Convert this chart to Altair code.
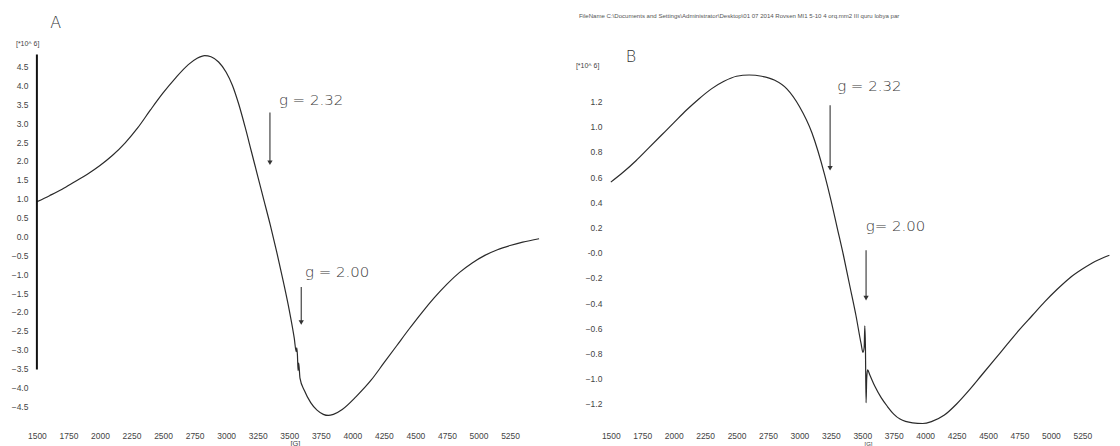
import altair as alt
import pandas as pd

# ---------------- data ----------------
A_G = [1500, 1600, 1700, 1800, 1900, 2000, 2100, 2200, 2300, 2400, 2500, 2600, 2700, 2770, 2830,
       2880, 2940, 3000, 3050, 3100, 3150, 3200, 3250, 3300, 3350, 3400, 3450, 3500, 3540, 3555,
       3560, 3565, 3570, 3575, 3585, 3620, 3670, 3720, 3770, 3810, 3850, 3920, 4030, 4150, 4250,
       4350, 4450, 4550, 4650, 4750, 4850, 4950, 5050, 5150, 5250, 5350, 5480]
A_I = [0.92, 1.08, 1.25, 1.45, 1.65, 1.88, 2.15, 2.48, 2.88, 3.35, 3.80, 4.20, 4.55, 4.72, 4.79,
       4.76, 4.62, 4.35, 4.00, 3.50, 2.90, 2.25, 1.60, 0.95, 0.30, -0.40, -1.15, -1.95, -2.70, -3.05,
       -2.95, -3.15, -3.55, -3.35, -3.75, -4.08, -4.40, -4.60, -4.71, -4.74, -4.71, -4.58, -4.24, -3.80, -3.35,
       -2.90, -2.45, -2.02, -1.62, -1.26, -0.95, -0.70, -0.50, -0.35, -0.24, -0.15, -0.06]

B_G = [1500, 1600, 1700, 1800, 1900, 2000, 2100, 2200, 2300, 2400, 2500, 2600, 2700, 2800, 2900,
       3000, 3100, 3200, 3250, 3300, 3350, 3400, 3450, 3490, 3505, 3515, 3520, 3525, 3530, 3535,
       3542, 3560, 3600, 3650, 3700, 3750, 3800, 3900, 3980, 4050, 4150, 4250, 4350, 4450, 4550,
       4650, 4750, 4850, 4950, 5050, 5150, 5250, 5350, 5465]
B_I = [0.56, 0.64, 0.73, 0.83, 0.93, 1.03, 1.13, 1.22, 1.30, 1.36, 1.40, 1.41, 1.40, 1.37, 1.30,
       1.16, 0.95, 0.62, 0.42, 0.20, -0.02, -0.26, -0.50, -0.72, -0.79, -0.75, -0.58, -0.75, -1.19, -1.00,
       -0.93, -0.97, -1.06, -1.15, -1.22, -1.28, -1.32, -1.35, -1.355, -1.34, -1.29, -1.20, -1.09, -0.97, -0.85,
       -0.73, -0.61, -0.50, -0.39, -0.29, -0.20, -0.13, -0.07, -0.02]

X_TICKS = [1500, 1750, 2000, 2250, 2500, 2750, 3000, 3250, 3500, 3750, 4000, 4250, 4500, 4750, 5000, 5250]
A_Y_TICKS = [-4.5, -4.0, -3.5, -3.0, -2.5, -2.0, -1.5, -1.0, -0.5, 0.0, 0.5, 1.0, 1.5, 2.0, 2.5, 3.0, 3.5, 4.0, 4.5]
B_Y_TICKS = [-1.2, -1.0, -0.8, -0.6, -0.4, -0.2, 0.0, 0.2, 0.4, 0.6, 0.8, 1.0, 1.2]

# annotations (data units)
A_ARROW_G = [3347, 3595]
A_ARROW_Y1 = [3.28, -1.34]
A_ARROW_Y2 = [1.95, -2.28]
A_LABEL_G = [3418, 3625]
A_LABEL_Y = [3.62, -0.95]
A_LABEL_T = ["g = 2.32", "g = 2.00"]

B_ARROW_G = [3244, 3530]
B_ARROW_Y1 = [1.17, 0.02]
B_ARROW_Y2 = [0.67, -0.36]
B_LABEL_G = [3300, 3528]
B_LABEL_Y = [1.32, 0.215]
B_LABEL_T = ["g = 2.32", "g= 2.00"]

FILE_NAME = ("FileName  C:\\Documents and Settings\\Administrator\\Desktop\\01 07 2014 "
             "Rovsen MI1 5-10 4 orq.mm2 III quru lobya par")

LABEL_FONT = "Liberation Sans"
HAND_FONT = "DejaVu Sans"
LINE_COLOR = "#2a2a2a"


def make_panel(G, I, xdom, ydom, w, h, yticks, ylabel_expr, ytitle_x, ytitle_y,
               arrow_g, arrow_y1, arrow_y2, lab_g, lab_y, lab_t,
               letter, letter_g, letter_y, xtitle_font, extra=None):
    df = pd.DataFrame({"G": G, "I": I})
    xs = alt.Scale(domain=xdom, nice=False, zero=False)
    ys = alt.Scale(domain=ydom, nice=False, zero=False)
    xaxis = alt.Axis(values=X_TICKS, format="d", title="[G]", titleFont=LABEL_FONT,
                     titleFontSize=xtitle_font,
                     titleFontWeight="normal", titleColor="#444",
                     titleX=(3545 - xdom[0]) / (xdom[1] - xdom[0]) * w, titleY=18.5,
                     titleBaseline="middle",
                     labelFont=LABEL_FONT, labelFontSize=8.5, labelColor="#444",
                     labelPadding=6, ticks=False, domain=False, grid=False, labelFlush=False,
                     labelOverlap=False, labelSeparation=0)
    yaxis = alt.Axis(values=yticks, title="[*10^ 6]", titleAngle=0, titleAlign="right",
                     titleBaseline="middle", titleX=ytitle_x, titleY=ytitle_y,
                     titleFont=LABEL_FONT, titleFontSize=7, titleFontWeight="normal", titleColor="#444",
                     labelFont=LABEL_FONT, labelFontSize=8.5, labelColor="#444",
                     labelExpr=ylabel_expr, labelPadding=9, ticks=False, domain=False, grid=False,
                     labelFlush=False, labelOverlap=False, labelSeparation=0)

    def X(f):
        return alt.X(f, scale=xs, axis=xaxis)

    def Y(f):
        return alt.Y(f, scale=ys, axis=yaxis)

    curve = alt.Chart(df).mark_line(color=LINE_COLOR, strokeWidth=1.2, interpolate="monotone").encode(
        x=X("G:Q"), y=Y("I:Q"), order="G:Q")
    adf = pd.DataFrame({"G": arrow_g, "y1": arrow_y1, "y2": arrow_y2})
    shafts = alt.Chart(adf).mark_rule(color="#333", strokeWidth=1.1).encode(
        x=X("G:Q"), y=Y("y1:Q"), y2="y2:Q")
    heads = alt.Chart(adf).mark_point(shape="triangle-down", filled=True, color="#333", size=28,
                                      opacity=1).encode(x=X("G:Q"), y=Y("y2:Q"))
    ldf = pd.DataFrame({"G": lab_g, "y": lab_y, "t": lab_t})
    labels = alt.Chart(ldf).mark_text(align="left", baseline="middle", font=HAND_FONT, fontSize=15,
                                      color="#3a3a3a", fontWeight=300).encode(
        x=X("G:Q"), y=Y("y:Q"), text="t:N")
    letdf = pd.DataFrame({"G": [letter_g], "y": [letter_y], "t": [letter]})
    let = alt.Chart(letdf).mark_text(align="center", baseline="middle", font=HAND_FONT, fontSize=16,
                                     color="#333", fontWeight=300).encode(
        x=X("G:Q"), y=Y("y:Q"), text="t:N")
    layers = [curve, shafts, heads, labels, let]
    if extra is not None:
        layers.extend(extra(X, Y))
    return alt.layer(*layers).properties(width=w, height=h)


def a_extra(X, Y):
    # thick vertical axis line drawn on the scan
    d = pd.DataFrame({"G": [1500], "y1": [4.82], "y2": [-3.52]})
    return [alt.Chart(d).mark_rule(color="#111", strokeWidth=2).encode(
        x=X("G:Q"), y=Y("y1:Q"), y2="y2:Q")]


def b_extra(X, Y):
    d = pd.DataFrame({"G": [1246], "y": [1.877], "t": [FILE_NAME]})
    return [alt.Chart(d).mark_text(align="left", baseline="middle", font=LABEL_FONT, fontSize=6.1,
                                   color="#555").encode(
        x=X("G:Q"), y=Y("y:Q"), text="t:N")]


panel_a = make_panel(A_G, A_I, [1500, 5480], [-5.0, 5.0], 504, 379, A_Y_TICKS,
                     "format(datum.value, '.1f')", 2, -4,
                     A_ARROW_G, A_ARROW_Y1, A_ARROW_Y2, A_LABEL_G, A_LABEL_Y, A_LABEL_T,
                     "A", 1650, 5.65, 7.5, extra=a_extra)

panel_b = make_panel(B_G, B_I, [1500, 5470], [-1.369, 1.627], 501, 379, B_Y_TICKS,
                     "datum.value == 0 ? '-0.0' : format(datum.value, '.1f')", -12, 18,
                     B_ARROW_G, B_ARROW_Y1, B_ARROW_Y2, B_LABEL_G, B_LABEL_Y, B_LABEL_T,
                     "B", 1660, 1.553, 6, extra=b_extra)

chart = alt.hconcat(panel_a, panel_b, spacing=72, bounds="flush").properties(
    padding={"left": 3, "top": 4, "right": 0, "bottom": 0},
    background="white",
).configure_view(strokeWidth=0).configure_axis(labelOverlap=False)

chart.save("out.html", embed_options={"renderer": "svg", "actions": False})
